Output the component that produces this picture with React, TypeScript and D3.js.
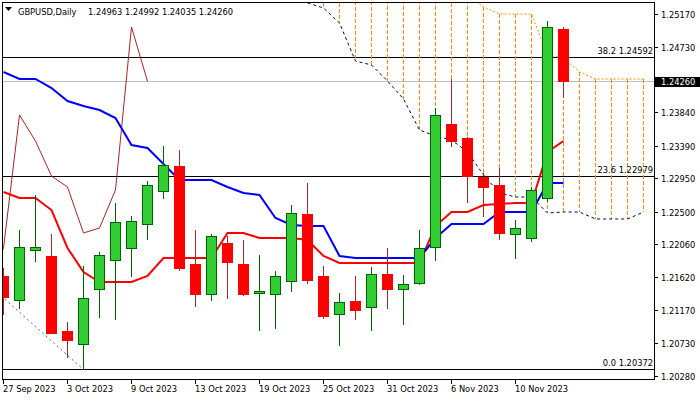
import React from "react";
import * as d3 from "d3";

// GBPUSD daily bars, 27 Sep 2023 .. 15 Nov 2023
const dates = [
  "27 Sep 2023", "28 Sep 2023", "29 Sep 2023", "2 Oct 2023", "3 Oct 2023", "4 Oct 2023",
  "5 Oct 2023", "6 Oct 2023", "9 Oct 2023", "10 Oct 2023", "11 Oct 2023", "12 Oct 2023",
  "13 Oct 2023", "16 Oct 2023", "17 Oct 2023", "18 Oct 2023", "19 Oct 2023", "20 Oct 2023",
  "23 Oct 2023", "24 Oct 2023", "25 Oct 2023", "26 Oct 2023", "27 Oct 2023", "30 Oct 2023",
  "31 Oct 2023", "1 Nov 2023", "2 Nov 2023", "3 Nov 2023", "6 Nov 2023", "7 Nov 2023",
  "8 Nov 2023", "9 Nov 2023", "10 Nov 2023", "13 Nov 2023", "14 Nov 2023", "15 Nov 2023",
];
const dateTicks = [
  "27 Sep 2023", "3 Oct 2023", "9 Oct 2023", "13 Oct 2023", "19 Oct 2023",
  "25 Oct 2023", "31 Oct 2023", "6 Nov 2023", "10 Nov 2023",
];

const open = [1.21631, 1.21307, 1.21982, 1.21901, 1.20888, 1.20712, 1.21455, 1.21847, 1.22009, 1.22333, 1.22779, 1.23117, 1.21793, 1.21388, 1.22077, 1.21793, 1.21401, 1.21388, 1.21563, 1.22468, 1.21631, 1.21118, 1.21293, 1.21212, 1.21658, 1.21455, 1.21536, 1.22023, 1.23684, 1.23495, 1.22968, 1.22860, 1.22198, 1.22144, 1.22684, 1.24963];
const high = [1.21739, 1.22252, 1.22725, 1.22198, 1.21009, 1.21766, 1.21955, 1.22617, 1.22441, 1.22914, 1.23387, 1.23333, 1.22252, 1.22198, 1.22171, 1.22117, 1.21915, 1.21698, 1.22590, 1.22887, 1.21766, 1.21401, 1.21631, 1.21752, 1.22009, 1.21644, 1.22252, 1.23900, 1.24292, 1.23508, 1.23022, 1.23090, 1.22387, 1.22833, 1.25075, 1.24992];
const low = [1.21104, 1.21185, 1.21820, 1.20847, 1.20523, 1.20372, 1.21063, 1.21036, 1.21617, 1.22117, 1.22671, 1.21698, 1.21212, 1.21293, 1.21320, 1.21361, 1.20888, 1.20915, 1.21415, 1.21523, 1.21050, 1.20685, 1.21036, 1.20888, 1.21185, 1.20969, 1.21509, 1.21833, 1.23373, 1.22617, 1.22428, 1.22117, 1.21860, 1.22090, 1.22630, 1.24035];
const close = [1.21347, 1.22023, 1.22023, 1.20861, 1.20766, 1.21334, 1.21915, 1.22360, 1.22374, 1.22860, 1.23130, 1.21739, 1.21388, 1.22171, 1.21820, 1.21388, 1.21428, 1.21631, 1.22482, 1.21577, 1.21090, 1.21279, 1.21172, 1.21658, 1.21455, 1.21523, 1.22009, 1.23806, 1.23454, 1.22981, 1.22833, 1.22212, 1.22279, 1.22793, 1.24994, 1.24260];

// Ichimoku lines
const tenkan = [1.22766, 1.22685, 1.22685, 1.22522, 1.22009, 1.21685, 1.21550, 1.21550, 1.21550, 1.21631, 1.21874, 1.21874, 1.21874, 1.21874, 1.22212, 1.22212, 1.22144, 1.22144, 1.22144, 1.22117, 1.21901, 1.21807, 1.21807, 1.21807, 1.21807, 1.21807, 1.21807, 1.22306, 1.22495, 1.22495, 1.22590, 1.22604, 1.22617, 1.22617, 1.23306, 1.23454];
const kijun = [1.24387, 1.24292, 1.24292, 1.24170, 1.23995, 1.23927, 1.23873, 1.23765, 1.23400, 1.23360, 1.23144, 1.22928, 1.22928, 1.22928, 1.22833, 1.22752, 1.22725, 1.22414, 1.22320, 1.22306, 1.22306, 1.21901, 1.21874, 1.21874, 1.21874, 1.21874, 1.21874, 1.22144, 1.22333, 1.22333, 1.22333, 1.22495, 1.22495, 1.22495, 1.22887, 1.22887];
const cloudStart = 19; // bar index of first cloud value
const spanA = [1.2588, 1.2588, 1.2580, 1.2575, 1.2575, 1.2568, 1.2568, 1.2560, 1.2552, 1.2548, 1.25440, 1.25265, 1.25170, 1.25170, 1.25170, 1.24616, 1.24576, 1.24387, 1.24292, 1.24292, 1.24292, 1.24292];
const spanB = [1.25319, 1.25251, 1.25048, 1.24535, 1.24481, 1.24265, 1.24022, 1.23603, 1.23522, 1.23468, 1.23306, 1.22995, 1.22752, 1.22698, 1.22698, 1.22482, 1.22495, 1.22495, 1.22401, 1.22401, 1.22401, 1.22495];
const chikouShift = 26;

// fibonacci retracement
const fibRatios = ["38.2", "23.6", "0.0"];
const fibPrices = [1.24592, 1.22979, 1.20372];
const fibHigh = { bar: -52, price: 1.31419 };
const fibLow = { bar: 5, price: 1.20372 };

const priceTicks = ["1.25170", "1.24730", "1.24260", "1.23840", "1.23390", "1.22950", "1.22500", "1.22060", "1.21620", "1.21170", "1.20730", "1.20280"];
const lastPrice = 1.2426;

const W = 700, H = 400;
const left = 2, right = 654, top = 2, bottom = 379;
const FONT = "DejaVu Sans";

export default function App() {
  const x = d3.scaleLinear().domain([0, 40]).range([3, 643]);
  const y = d3.scaleLinear().domain([1.2028, 1.2517]).range([376, 14]);

  const line = d3.line<[number, number]>().x((d) => x(d[0]) + 0.5).y((d) => y(d[1]));
  const tenkanPath = line(tenkan.map((v, i) => [i, v]));
  const kijunPath = line(kijun.map((v, i) => [i, v]));
  const spanAPath = line(spanA.map((v, i) => [i + cloudStart, v]));
  const spanBPath = line(spanB.map((v, i) => [i + cloudStart, v]));
  const chikouPts: [number, number][] = [];
  close.forEach((c, i) => {
    if (i - chikouShift >= -1) chikouPts.push([i - chikouShift, c]);
  });
  const chikouPath = line(chikouPts);

  const px = (v: number) => Math.round(v) + 0.5;

  return (
    <div style={{ position: "absolute", left: 0, top: 0 }}>
      <svg width={W} height={H} style={{ display: "block", background: "#fff" }} fontFamily={FONT}>
        <defs>
          <clipPath id="plot">
            <rect x={left} y={top} width={right - left} height={bottom - top} />
          </clipPath>
        </defs>
        <g clipPath="url(#plot)">
          {/* current price line */}
          <line x1={left} x2={right} y1={px(y(lastPrice))} y2={px(y(lastPrice))} stroke="#c0c0c0" />
          {/* fib levels */}
          {fibPrices.map((p, i) => (
            <line key={i} x1={left} x2={right} y1={px(y(p))} y2={px(y(p))} stroke="#000" />
          ))}
          <line
            x1={x(fibHigh.bar)} y1={y(fibHigh.price)} x2={x(fibLow.bar)} y2={y(fibLow.price)}
            stroke="#5a6a7a" strokeDasharray="2,3"
          />
          {/* cloud hatch */}
          <g shapeRendering="crispEdges">
            {spanA.map((a, i) => (
              <line
                key={i}
                x1={px(x(i + cloudStart))} x2={px(x(i + cloudStart))}
                y1={Math.round(y(a))} y2={Math.round(y(spanB[i]))}
                stroke="#ff8c00" strokeDasharray="4,2"
              />
            ))}
          </g>
          <path d={spanAPath} fill="none" stroke="#ff8c00" strokeDasharray="2,2" />
          <path d={spanBPath} fill="none" stroke="#000070" strokeDasharray="3,3" />
          <path d={chikouPath} fill="none" stroke="#b22222" />
          <path d={tenkanPath} fill="none" stroke="#ff0000" strokeWidth={2} />
          <path d={kijunPath} fill="none" stroke="#0000ff" strokeWidth={2} />
          {/* candles */}
          {open.map((o, i) => {
            const c = close[i];
            const bull = c >= o;
            const cx = x(i);
            const yTop = Math.round(y(Math.max(o, c)));
            const yBot = Math.round(y(Math.min(o, c)));
            return (
              <g key={i} shapeRendering="crispEdges">
                <line
                  x1={cx + 0.5} x2={cx + 0.5} y1={Math.round(y(high[i]))} y2={Math.round(y(low[i]))}
                  stroke={bull ? "#006400" : "#a52a2a"}
                />
                <rect
                  x={cx - 4.5} y={yTop + 0.5} width={10} height={Math.max(1, yBot - yTop)}
                  fill={bull ? "#32cd32" : "#ff0000"} stroke={bull ? "#006400" : "#ff0000"}
                />
              </g>
            );
          })}
        </g>
        {/* fib labels */}
        {fibPrices.map((p, i) => (
          <text key={i} x={653} y={y(p) - 3} fontSize={8.3} textAnchor="end" fill="#000">
            {fibRatios[i]} {p.toFixed(5)}
          </text>
        ))}
        {/* frame */}
        <rect x={left + 0.5} y={top + 0.5} width={right - left} height={bottom - top} fill="none" stroke="#000" />
        {/* price axis */}
        {priceTicks.map((t) => {
          const ty = Math.round(y(+t)) + 0.5;
          return (
            <g key={t}>
              <line x1={right} x2={right + 4} y1={ty} y2={ty} stroke="#000" />
              {+t !== lastPrice && (
                <text x={661} y={ty + 3} fontSize={8.3} fill="#000">{t}</text>
              )}
            </g>
          );
        })}
        <rect x={655} y={Math.round(y(lastPrice)) - 4} width={45} height={10} fill="#000" />
        <text x={661} y={Math.round(y(lastPrice)) + 4} fontSize={8.3} fill="#fff">{lastPrice.toFixed(5)}</text>
        {/* time axis */}
        {dateTicks.map((d) => {
          const tx = Math.round(x(dates.indexOf(d))) + 0.5;
          return (
            <g key={d}>
              <line x1={tx} x2={tx} y1={bottom} y2={bottom + 5} stroke="#000" />
              <text x={tx - 0.5} y={392} fontSize={8.3} fill="#000">{d}</text>
            </g>
          );
        })}
        {/* header */}
        <path d="M5,7L12,7L8.5,11Z" fill="#000" />
        <text y={15} fontSize={8.3} fill="#000">
          <tspan x={18}>GBPUSD,Daily</tspan>
          <tspan x={88}>
            {[open, high, low, close].map((a) => a[a.length - 1].toFixed(5)).join(" ")}
          </tspan>
        </text>
      </svg>
    </div>
  );
}
